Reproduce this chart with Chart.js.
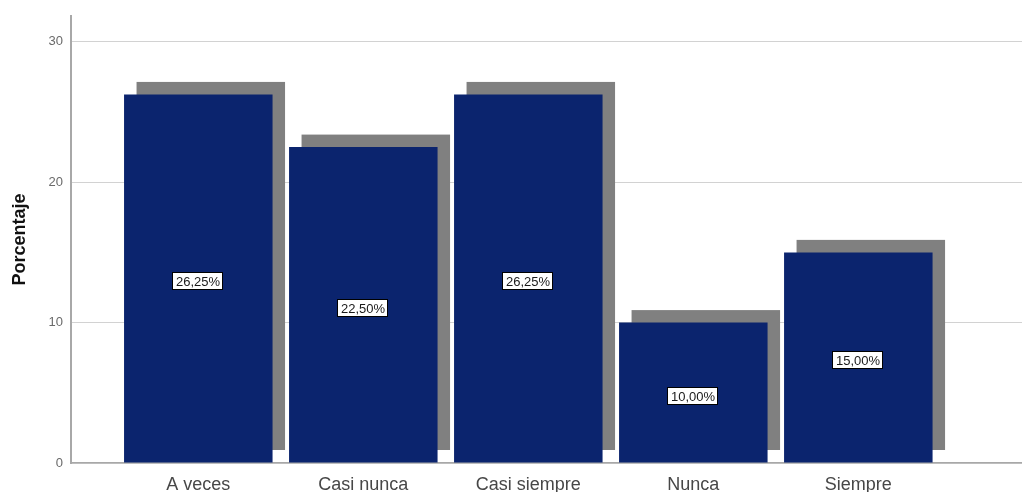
<!DOCTYPE html>
<html>
<head>
<meta charset="utf-8">
<script src="https://cdn.jsdelivr.net/npm/chart.js@4"></script>
<style>
  html, body { margin: 0; padding: 0; background: #fff; }
  #wrap { width: 1022px; height: 492px; }
</style>
</head>
<body>
<div id="wrap"><canvas id="c" width="1022" height="492"></canvas></div>
<script>
// Response categories and their share of answers (%)
const categories = ['A veces', 'Casi nunca', 'Casi siempre', 'Nunca', 'Siempre'];
const percentages = [26.25, 22.5, 26.25, 10, 15];
const yTicks = [0, 10, 20, 30];

const BAR_COLOR = '#0b246e';
const SHADOW_COLOR = '#808080';
const SHADOW_DX = 12.5;
const SHADOW_DY = 12.5;

const fmtPct = v => v.toFixed(2).replace('.', ',') + '%';

// Drop shadow behind each bar, offset up and to the right
const barShadow = {
  id: 'barShadow',
  beforeDatasetsDraw(chart) {
    const ctx = chart.ctx;
    const meta = chart.getDatasetMeta(0);
    ctx.save();
    ctx.fillStyle = SHADOW_COLOR;
    meta.data.forEach(bar => {
      const p = bar.getProps(['x', 'y', 'base', 'width'], true);
      const left = p.x - p.width / 2 + SHADOW_DX;
      const top = p.y - SHADOW_DY;
      const bottom = p.base - SHADOW_DY;
      ctx.fillRect(left, top, p.width, bottom - top);
    });
    ctx.restore();
  }
};

// Boxed value labels in the middle of each bar
const valueBoxes = {
  id: 'valueBoxes',
  afterDatasetsDraw(chart) {
    const ctx = chart.ctx;
    const meta = chart.getDatasetMeta(0);
    ctx.save();
    ctx.font = '13px "Liberation Sans", Arial, sans-serif';
    ctx.textAlign = 'center';
    ctx.textBaseline = 'middle';
    meta.data.forEach((bar, i) => {
      const p = bar.getProps(['x', 'y', 'base'], true);
      const txt = fmtPct(percentages[i]);
      const w = Math.round(ctx.measureText(txt).width) + 7;
      const h = 18;
      const cx = Math.round(p.x);
      const cy = Math.round((p.y + p.base) / 2 + 3);
      const x0 = cx - Math.round(w / 2);
      const y0 = cy - Math.round(h / 2);
      ctx.fillStyle = '#ffffff';
      ctx.fillRect(x0, y0, w, h);
      ctx.strokeStyle = '#000000';
      ctx.lineWidth = 1;
      ctx.strokeRect(x0 + 0.5, y0 + 0.5, w - 1, h - 1);
      ctx.fillStyle = '#1a1a1a';
      ctx.fillText(txt, cx, cy + 1);
    });
    ctx.restore();
  }
};

const points = categories.map((c, i) => ({ x: i, y: percentages[i] }));

new Chart(document.getElementById('c'), {
  type: 'bar',
  data: {
    datasets: [{
      data: points,
      backgroundColor: BAR_COLOR,
      borderWidth: 0,
      barPercentage: 0.9,
      categoryPercentage: 1.0
    }]
  },
  options: {
    responsive: false,
    animation: false,
    devicePixelRatio: 1,
    layout: { padding: { top: 14, right: 0, bottom: 0, left: 0 } },
    plugins: {
      legend: { display: false },
      tooltip: { enabled: false }
    },
    scales: {
      x: {
        type: 'linear',
        offset: false,
        min: -0.7715,
        max: 4.992,
        afterBuildTicks: scale => {
          scale.ticks = categories.map((c, i) => ({ value: i }));
        },
        afterFit: scale => { scale.height = 29; },
        grid: { display: false, drawTicks: false },
        border: { display: true, color: '#a8a8a8', width: 1.5 },
        ticks: {
          padding: 11,
          maxRotation: 0,
          autoSkip: false,
          color: '#474747',
          font: { family: '"Liberation Sans", Arial, sans-serif', size: 18 },
          callback: v => categories[v]
        }
      },
      y: {
        min: 0,
        max: 31.85,
        afterBuildTicks: scale => {
          scale.ticks = yTicks.map(v => ({ value: v }));
        },
        afterFit: scale => { scale.width = 71; },
        grid: { color: '#d2d2d2', lineWidth: 1, drawTicks: false },
        border: { display: true, color: '#a8a8a8', width: 2 },
        ticks: {
          padding: 8,
          color: '#6a6a6a',
          font: { family: '"Liberation Sans", Arial, sans-serif', size: 13 }
        },
        title: {
          display: true,
          text: 'Porcentaje',
          color: '#111111',
          padding: { top: 9, bottom: 0 },
          font: { family: '"Liberation Sans", Arial, sans-serif', size: 18, weight: 'bold' }
        }
      }
    }
  },
  plugins: [barShadow, valueBoxes]
});
</script>
</body>
</html>
